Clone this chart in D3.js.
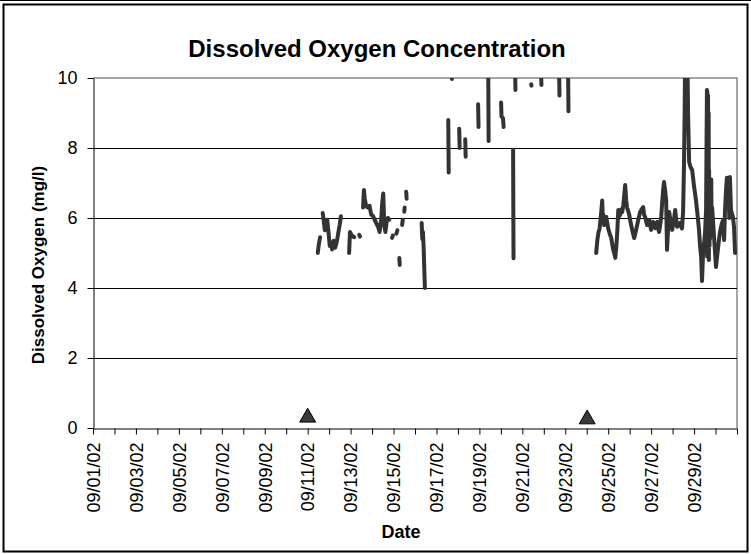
<!DOCTYPE html>
<html>
<head>
<meta charset="utf-8">
<script src="https://cdn.jsdelivr.net/npm/d3@7"></script>
<style>
body { margin: 0; background: #fff; }
svg { display: block; font-family: Arial, "Liberation Sans", sans-serif; }
</style>
</head>
<body>
<svg id="chart" width="751" height="554"></svg>
<script>
// readings: [day of September 2002 (fractional), dissolved oxygen mg/l]
// the logger has gaps, so each run is its own array
var run1 = [[11.47,5.0],[11.52,5.25],[11.58,5.45]];
var run2 = [[11.70,6.14],[11.75,5.9],[11.80,5.65],[11.86,5.8],[11.91,5.95],[11.97,5.6],[12.03,5.2],[12.09,5.3],
  [12.14,5.1],[12.21,5.35],[12.28,5.15],[12.35,5.3],[12.42,5.55],[12.49,5.8],[12.55,6.05]];
var run3 = [[12.93,5.0],[12.97,5.6],[13.05,5.5],[13.17,5.45]];
var run4 = [[13.40,5.52],[13.44,5.47]];
var run5 = [[13.58,6.3],[13.62,6.8],[13.66,6.55],[13.72,6.35],[13.80,6.3],[13.88,6.35],[13.96,6.1],[14.05,6.05],
  [14.12,5.95],[14.20,5.85],[14.28,5.75],[14.35,5.6],[14.42,5.9],[14.47,6.4],[14.52,6.7],[14.57,5.8],[14.62,5.6],
  [14.68,5.9],[14.74,6.0],[14.80,5.95]];
var run6 = [[14.93,5.43],[14.97,5.5]];
var run7 = [[15.13,5.55],[15.18,5.65]];
var run8 = [[15.27,4.86],[15.29,4.66]];
var run9 = [[15.40,5.8],[15.43,5.95]];
var run10 = [[15.50,6.18],[15.52,6.3]];
var run11 = [[15.59,6.75],[15.61,6.55]];
var run12 = [[16.31,5.86],[16.34,5.4],[16.37,5.6],[16.40,5.2],[16.43,4.6],[16.46,4.0]];
var run13 = [[17.55,8.8],[17.57,7.3]];
var run14 = [[17.70,10.3],[17.72,9.97]];
var run15 = [[18.06,8.55],[18.08,8.0]];
var run16 = [[18.34,8.25],[18.36,7.75]];
var run17 = [[18.94,9.25],[18.96,8.6]];
var run18 = [[19.41,10.5],[19.43,8.2]];
var run19 = [[20.01,9.3],[20.03,8.9],[20.10,8.85],[20.13,8.6]];
var run20 = [[20.57,7.95],[20.59,4.85]];
var run21 = [[20.66,10.3],[20.68,9.66]];
var run22 = [[21.41,9.82],[21.43,9.78]];
var run23 = [[21.87,10.2],[21.89,9.8]];
var run24 = [[22.71,10.3],[22.73,9.5]];
var run25 = [[23.13,10.3],[23.15,9.05]];
var run26 = [[24.44,5.0],[24.50,5.4],[24.55,5.6],[24.60,5.7],[24.63,5.89],[24.68,6.2],[24.72,6.5],[24.75,6.0],[24.77,6.1],[24.81,5.8],
  [24.86,5.95],[24.91,6.03],[24.96,5.85],[25.00,5.7],[25.07,5.55],[25.14,5.43],[25.23,5.1],[25.30,4.95],[25.33,4.86],
  [25.38,5.2],[25.42,5.57],[25.47,6.23],[25.51,6.05],[25.56,6.09],[25.61,6.25],[25.65,6.17],[25.70,6.35],[25.74,6.6],
  [25.79,6.94],[25.84,6.5],[25.88,6.29],[25.93,6.2],[25.98,6.09],[26.02,5.95],[26.07,5.8],[26.14,5.6],[26.21,5.43],
  [26.28,5.6],[26.35,5.8],[26.42,6.0],[26.49,6.17],[26.56,6.25],[26.63,6.31],[26.67,6.1],[26.72,6.03],[26.77,5.9],
  [26.81,5.8],[26.86,5.9],[26.91,5.94],[26.95,5.8],[27.00,5.66],[27.05,5.85],[27.09,5.89],[27.14,5.75],[27.19,5.71],
  [27.23,5.85],[27.28,5.89],[27.33,5.7],[27.37,5.6],[27.42,5.8],[27.47,6.03],[27.51,6.4],[27.56,6.8],[27.60,7.03],
  [27.65,6.8],[27.70,6.5],[27.72,5.8],[27.74,5.09],[27.79,5.7],[27.84,6.17],[27.91,5.9],[27.98,5.66],[28.05,5.9],
  [28.12,6.23],[28.16,6.0],[28.21,5.75],[28.28,5.8],[28.35,5.86],[28.40,5.75],[28.44,5.7],[28.49,6.2],[28.53,7.5],
  [28.56,9.0],[28.58,10.3],[28.61,9.8],[28.63,10.2],[28.67,9.7],[28.70,10.1],[28.72,9.0],[28.77,7.6],[28.84,7.45],
  [28.91,7.37],[29.00,6.9],[29.09,6.5],[29.16,6.1],[29.23,5.66],[29.28,5.2],[29.33,4.89],[29.37,4.2],[29.42,5.0],
  [29.47,5.3],[29.51,5.57],[29.56,6.23],[29.58,8.0],[29.60,9.66],[29.61,4.9],[29.62,9.6],[29.64,5.5],[29.65,9.5],
  [29.66,6.2],[29.68,9.0],[29.69,4.8],[29.70,7.37],[29.72,5.2],[29.73,7.1],[29.74,5.4],[29.77,7.0],[29.79,5.6],
  [29.80,7.1],[29.82,5.6],[29.84,6.3],[29.88,5.94],[29.93,5.46],[29.98,5.0],[30.02,4.6],[30.09,5.0],[30.16,5.37],
  [30.21,5.6],[30.26,5.75],[30.30,5.85],[30.35,5.94],[30.40,5.37],[30.44,6.2],[30.49,6.8],[30.53,7.15],[30.60,7.1],
  [30.64,6.0],[30.67,7.17],[30.72,6.23],[30.77,6.1],[30.81,6.03],[30.86,5.75],[30.91,5.0]];

var runs = [run1, run2, run3, run4, run5, run6, run7, run8, run9, run10, run11, run12, run13,
  run14, run15, run16, run17, run18, run19, run20, run21, run22, run23, run24, run25, run26];

// triangle markers along the bottom
var markerDays = [11.0, 24.02];
var markerValues = [0.3, 0.25];

var yTicks = [0, 2, 4, 6, 8, 10];
var gridValues = [2, 4, 6, 8];
var startDate = new Date(2002, 8, 1), endDate = new Date(2002, 9, 1);

function toDate(day) {
  return new Date(startDate.getTime() + (day - 1) * 864e5);
}

function drawChart() {
  var svg = d3.select('#chart');
  var left = 93, right = 737, top = 78, bottom = 428;

  var x = d3.scaleTime().domain([startDate, endDate]).range([left, right]);
  var y = d3.scaleLinear().domain([0, 10]).range([bottom, top]);

  // outer frame
  svg.append('line').attr('x1', 0).attr('x2', 751).attr('y1', 0.5).attr('y2', 0.5)
    .attr('stroke', '#000');
  svg.append('rect').attr('x', 3.5).attr('y', 4.5).attr('width', 744).attr('height', 547)
    .attr('fill', 'none').attr('stroke', '#000').attr('stroke-width', 2);

  svg.append('clipPath').attr('id', 'plotclip').append('rect')
    .attr('x', left).attr('y', top).attr('width', right - left).attr('height', bottom - top);

  // plot area border (top + right grey)
  svg.append('path')
    .attr('d', 'M' + left + ',' + top + 'H' + right + 'V' + bottom)
    .attr('fill', 'none').attr('stroke', '#888').attr('stroke-width', 1.5);

  svg.append('g').selectAll('line').data(gridValues).enter().append('line')
    .attr('x1', left).attr('x2', right)
    .attr('y1', function (d) { return Math.round(y(d)) + 0.5; })
    .attr('y2', function (d) { return Math.round(y(d)) + 0.5; })
    .attr('stroke', '#000');

  var fmt = d3.timeFormat('%m/%d/%y');
  var xAxis = d3.axisBottom(x).ticks(d3.timeDay.every(1)).tickSize(6).tickSizeOuter(0)
    .tickFormat(function (d) {
      var day = d.getDate();
      return (d.getMonth() === 8 && day % 2 === 1) ? fmt(d) : '';
    });
  var gx = svg.append('g').attr('transform', 'translate(0,' + (bottom + 0.5) + ')').call(xAxis);
  gx.selectAll('text')
    .attr('transform', 'rotate(-90)')
    .attr('x', -14).attr('y', 0).attr('dy', '0.35em')
    .style('text-anchor', 'end');

  var yAxis = d3.axisLeft(y).tickValues(yTicks).tickSize(6).tickSizeOuter(0).tickPadding(10);
  var gy = svg.append('g').attr('transform', 'translate(' + (left + 0.5) + ',0)').call(yAxis);

  svg.selectAll('.tick text').attr('font-size', 18).attr('fill', '#000')
    .attr('font-family', 'Arial, "Liberation Sans", sans-serif');
  svg.selectAll('.domain, .tick line').attr('stroke', '#000');

  var line = d3.line()
    .x(function (d) { return x(toDate(d[0])); })
    .y(function (d) { return y(d[1]); });

  svg.append('g').attr('clip-path', 'url(#plotclip)')
    .selectAll('path').data(runs).enter().append('path')
    .attr('d', line)
    .attr('fill', 'none').attr('stroke', '#333')
    .attr('stroke-width', 4).attr('stroke-linecap', 'round').attr('stroke-linejoin', 'round');

  var tri = d3.symbol().type(d3.symbolTriangle).size(110);
  svg.append('g').selectAll('path').data(markerDays).enter().append('path')
    .attr('d', tri)
    .attr('transform', function (d, i) {
      return 'translate(' + x(toDate(d)) + ',' + y(markerValues[i]) + ')';
    })
    .attr('fill', '#3a3a3a').attr('stroke', '#000').attr('stroke-width', 1);

  svg.append('text').attr('x', 377).attr('y', 57).attr('text-anchor', 'middle')
    .attr('font-size', 24).attr('font-weight', 'bold').text('Dissolved Oxygen Concentration');

  svg.append('text').attr('transform', 'translate(44,265) rotate(-90)').attr('text-anchor', 'middle')
    .attr('font-size', 17).attr('font-weight', 'bold').text('Dissolved Oxygen (mg/l)');

  svg.append('text').attr('x', 401).attr('y', 538).attr('text-anchor', 'middle')
    .attr('font-size', 18).attr('font-weight', 'bold').text('Date');
}

drawChart();
</script>
</body>
</html>
